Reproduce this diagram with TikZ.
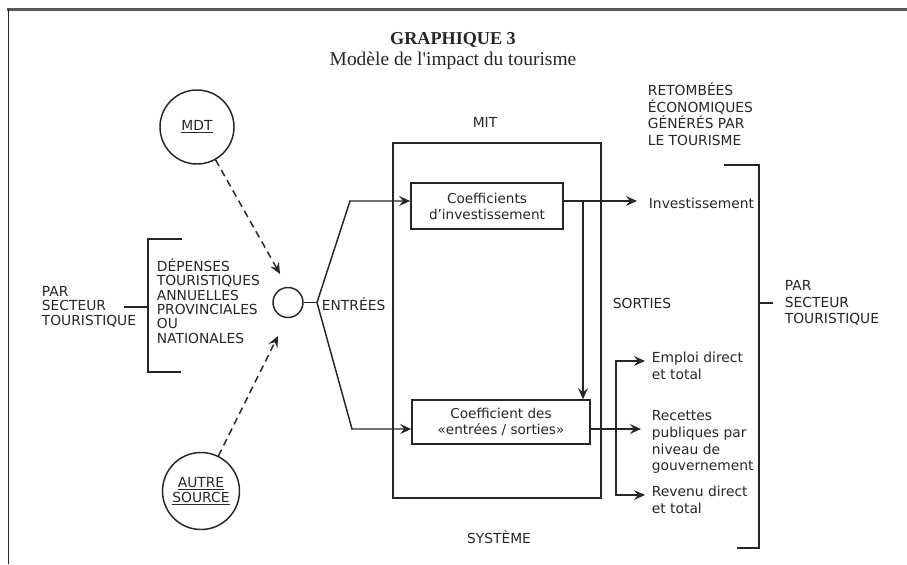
\documentclass[tikz,border=0pt]{standalone}
\usepackage{fontspec}
\setmainfont{DejaVu Sans}
\newfontfamily\titlefont{Liberation Serif}
\usetikzlibrary{arrows.meta}

\begin{document}
\begin{tikzpicture}[
  x=0.03cm, y=-0.03cm,
  line width=1.25pt, color=black!85,
  rule/.style      = {line width=1.6pt},
  title/.style     = {font=\titlefont\bfseries\fontsize{15.5}{17}\selectfont, inner sep=0pt},
  subtitle/.style  = {font=\titlefont\fontsize{16.6}{19}\selectfont, inner sep=0pt},
  lbl/.style       = {font=\fontsize{11.8}{14.2}\selectfont, inner sep=1pt, align=left},
  caps/.style      = {font=\fontsize{11.8}{12.3}\selectfont, inner sep=1pt, align=left},
  src/.style       = {draw, circle, inner sep=0pt, minimum size=2.22cm,
                      font=\fontsize{11.8}{13}\selectfont, align=center},
  hub/.style       = {draw, circle, inner sep=0pt, minimum size=0.9cm},
  sysbox/.style    = {draw, minimum width=6.24cm, minimum height=10.65cm},
  box/.style       = {draw, align=center, inner sep=1pt, minimum width=4.56cm,
                      minimum height=1.38cm, font=\fontsize{11.6}{13.6}\selectfont},
  arrow/.style     = {-{Stealth[length=9.5pt,width=8.5pt,inset=3.5pt]}},
  feed/.style      = {dash pattern=on 6pt off 4pt,
                      -{Stealth[length=9.5pt,width=8.5pt,inset=3.5pt]}},
]
  \useasboundingbox (0,0) rectangle (907,564);

  % the page frame
  \draw[rule, gray!70!black, line width=2.4pt] (7,9.5) -- (907,9.5);
  \draw[rule] (8.5,9) -- (8.5,564);

  \node[title] (ttl) at (453,40) {GRAPHIQUE 3};
  \node[subtitle] (sub) at (453,61) {Modèle de l'impact du tourisme};

  % the two sources feeding the spending total
  \node[src] (mdt) at (197,127) {\underline{MDT}};
  \node[src, minimum size=2.31cm] (autre) at (201,491) {\underline{AUTRE}\\\underline{SOURCE}};
  \node[hub] (hub) at (288,302.5) {};
  \coordinate (mdtin) at (280,274);
  \coordinate (autrein) at (278,336);
  \draw[feed] (mdt) -- (mdtin);
  \draw[feed] (autre) -- (autrein);

  % tourist spending, by sector
  \node[caps, anchor=west] (parL) at (40,306.5) {PAR\\SECTEUR\\TOURISTIQUE};
  \node[caps, anchor=west] (dep) at (155,301) {DÉPENSES\\TOURISTIQUES\\ANNUELLES\\PROVINCIALES\\OU\\NATIONALES};
  \coordinate (tickL) at (124,307);
  \coordinate (brkL) at (148,307);
  \draw (tickL) -- (brkL);
  \draw (182,239) -- (148,239) -- (148,372) -- (181,372);

  % the model
  \node[sysbox] (sys) at (497,320.5) {};
  \node[lbl] (mit) at (485,122) {MIT};
  \node[lbl] (systeme) at (499,537) {SYSTÈME};
  \node[box] (coef) at (487,206) {Coefficients\\d'investissement};
  \node[box, minimum width=5.34cm, minimum height=1.32cm] (io) at (501,422) {Coefficient des\\«entrées / sorties»};

  % inputs
  \coordinate (split) at (317,302.5);
  \coordinate (bendA) at (350,201);
  \coordinate (bendB) at (352,429);
  \draw (hub) -- (split);
  \node[lbl, anchor=west] (entrees) at (320,304) {ENTRÉES};
  \draw[arrow] (split) -- (bendA) -- (bendA -| coef.west);
  \draw[arrow] (split) -- (bendB) -- (bendB -| io.west);

  % outputs
  \node[lbl, anchor=west] (sorties) at (611,303) {SORTIES};
  \node[lbl, anchor=north west] (retomb) at (646,81) {RETOMBÉES\\ÉCONOMIQUES\\GÉNÉRÉS PAR\\LE TOURISME};
  \coordinate (tipI) at (637,201);
  \coordinate (drop) at (583,201);
  \node[lbl, anchor=west] (inv) at (647,203) {Investissement};
  \draw[arrow] (coef.east |- tipI) -- (tipI);
  \draw[arrow] (drop) -- (drop |- io.north);

  \coordinate (tipR) at (641,429);
  \coordinate (fork) at (616,429);
  \coordinate (tipE) at (645,361);
  \coordinate (tipV) at (645,495);
  \draw[arrow] (io.east |- tipR) -- (tipR);
  \draw[arrow] (fork) |- (tipE);
  \draw[arrow] (fork) |- (tipV);
  \node[lbl, anchor=north west] (emploi) at (650,350) {Emploi direct\\et total};
  \node[lbl, anchor=north west] (recettes) at (650,409) {Recettes\\publiques par\\niveau de\\gouvernement};
  \node[lbl, anchor=north west] (revenu) at (650,484) {Revenu direct\\et total};

  % by sector, on the output side
  \draw (724,165) -- (759,165) -- (759,548) -- (737,548);
  \coordinate (brkR) at (759,303);
  \coordinate (tickR) at (773,303);
  \draw (brkR) -- (tickR);
  \node[lbl, anchor=west] (parR) at (783,303) {PAR\\SECTEUR\\TOURISTIQUE};
\end{tikzpicture}
\end{document}
